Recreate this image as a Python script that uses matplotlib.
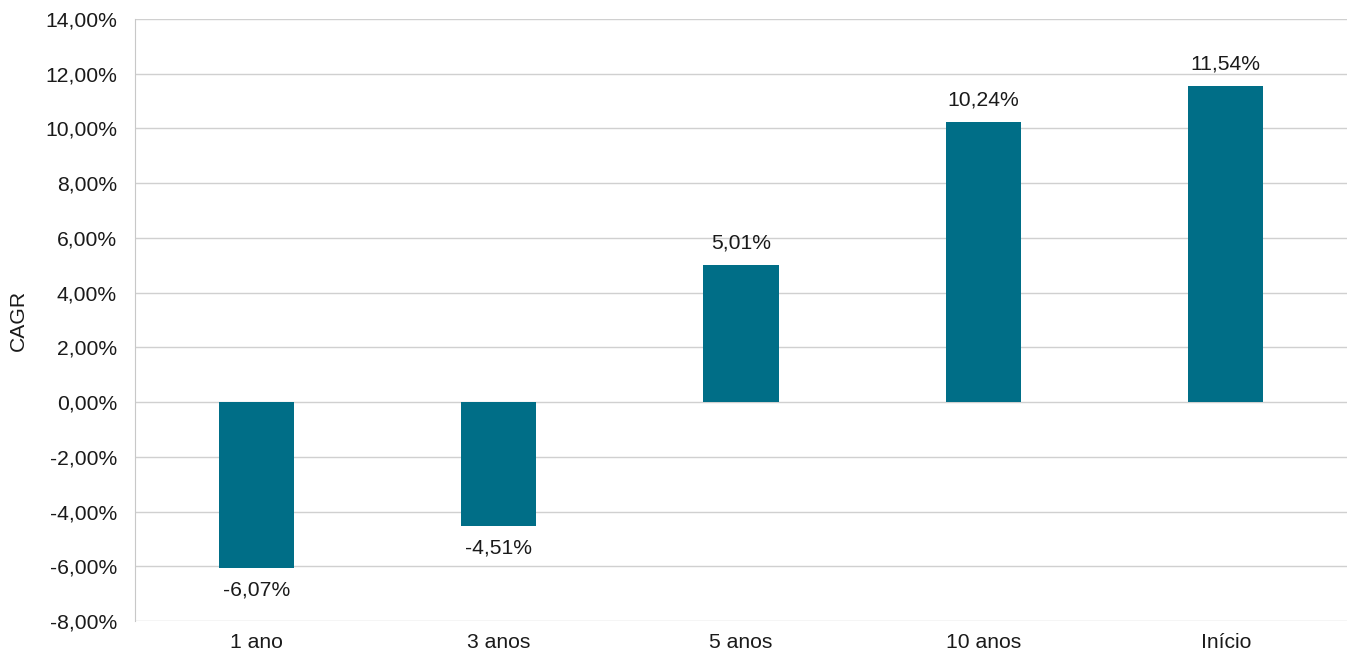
import matplotlib
matplotlib.use("Agg")
import matplotlib.pyplot as plt
from matplotlib.ticker import FuncFormatter

plt.rcParams['font.family'] = ['Liberation Sans', 'DejaVu Sans']

categories = ["1 ano", "3 anos", "5 anos", "10 anos", "Início"]
cagr = [-6.07, -4.51, 5.01, 10.24, 11.54]
bar_color = "#006E87"
fs = 15.2


def pct_br(v, pos=None):
    return ("%.2f%%" % v).replace(".", ",")


fig = plt.figure(figsize=(13.48, 6.56), dpi=100)
ax = fig.add_axes([135 / 1348, 35 / 656, 1212 / 1348, 602 / 656])

x = range(len(categories))
ax.bar(x, cagr, width=0.31, color=bar_color, zorder=3)

# value labels above / below the bars
for i, v in enumerate(cagr):
    if v >= 0:
        ax.annotate(pct_br(v), (i, v), xytext=(0, 9), textcoords="offset points",
                    ha="center", va="bottom", fontsize=fs, color="#1a1a1a")
    else:
        ax.annotate(pct_br(v), (i, v), xytext=(0, -9), textcoords="offset points",
                    ha="center", va="top", fontsize=fs, color="#1a1a1a")

ax.set_ylim(-8, 14)
ax.set_yticks(range(-8, 15, 2))
ax.yaxis.set_major_formatter(FuncFormatter(pct_br))
ax.set_xlim(-0.5, len(categories) - 0.5)
ax.set_xticks(list(x))
ax.set_xticklabels(categories)

ax.grid(axis="y", color="#d0d0d0", linewidth=1, zorder=0)
for side in ["top", "right", "bottom"]:
    ax.spines[side].set_visible(False)
ax.spines["left"].set_color("#c8c8c8")
ax.tick_params(axis="both", length=0, labelsize=fs, colors="#1a1a1a")
ax.tick_params(axis="x", pad=9)
ax.tick_params(axis="y", pad=13)

ax.set_ylabel("CAGR", fontsize=fs, color="#1a1a1a")
ax.yaxis.set_label_coords(-0.088, 0.5)

fig.savefig("out.png", dpi=100)
